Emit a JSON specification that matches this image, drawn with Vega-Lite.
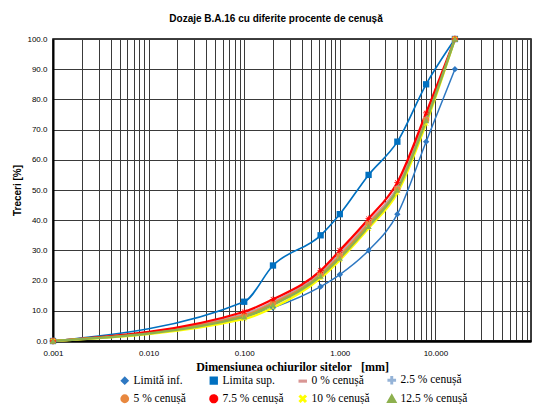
{
  "$schema": "https://vega.github.io/schema/vega-lite/v6.json",
  "width": 478,
  "height": 302,
  "autosize": "none",
  "padding": {"left": 53, "top": 39, "right": 12, "bottom": 63},
  "background": "white",
  "title": {"text": "Dozaje B.A.16 cu diferite procente de cenușă", "font": "Liberation Sans", "fontSize": 10, "fontWeight": "bold", "color": "#000000", "offset": 10, "dx": -16},
  "config": {"view": {"stroke": "#000000", "strokeWidth": 1.5}},
  "data": {"values": [
    {"s": "Limită inf.", "x": 0.001, "y": 0}, {"s": "Limită inf.", "x": 0.1, "y": 8}, {"s": "Limită inf.", "x": 0.2, "y": 11}, {"s": "Limită inf.", "x": 0.63, "y": 18}, {"s": "Limită inf.", "x": 1, "y": 22}, {"s": "Limită inf.", "x": 2, "y": 30}, {"s": "Limită inf.", "x": 4, "y": 42}, {"s": "Limită inf.", "x": 8, "y": 66}, {"s": "Limită inf.", "x": 16, "y": 90},
    {"s": "Limita sup.", "x": 0.001, "y": 0}, {"s": "Limita sup.", "x": 0.1, "y": 13}, {"s": "Limita sup.", "x": 0.2, "y": 25}, {"s": "Limita sup.", "x": 0.63, "y": 35}, {"s": "Limita sup.", "x": 1, "y": 42}, {"s": "Limita sup.", "x": 2, "y": 55}, {"s": "Limita sup.", "x": 4, "y": 66}, {"s": "Limita sup.", "x": 8, "y": 85}, {"s": "Limita sup.", "x": 16, "y": 100},
    {"s": "0 % cenușă", "x": 0.001, "y": 0}, {"s": "0 % cenușă", "x": 0.1, "y": 9.0}, {"s": "0 % cenușă", "x": 0.2, "y": 13.0}, {"s": "0 % cenușă", "x": 0.63, "y": 22.5}, {"s": "0 % cenușă", "x": 1, "y": 29.0}, {"s": "0 % cenușă", "x": 2, "y": 39.5}, {"s": "0 % cenușă", "x": 4, "y": 51.0}, {"s": "0 % cenușă", "x": 8, "y": 74.0}, {"s": "0 % cenușă", "x": 16, "y": 100},
    {"s": "2.5 % cenușă", "x": 0.001, "y": 0}, {"s": "2.5 % cenușă", "x": 0.1, "y": 8.7}, {"s": "2.5 % cenușă", "x": 0.2, "y": 12.7}, {"s": "2.5 % cenușă", "x": 0.63, "y": 22.3}, {"s": "2.5 % cenușă", "x": 1, "y": 28.5}, {"s": "2.5 % cenușă", "x": 2, "y": 39.0}, {"s": "2.5 % cenușă", "x": 4, "y": 50.5}, {"s": "2.5 % cenușă", "x": 8, "y": 73.5}, {"s": "2.5 % cenușă", "x": 16, "y": 100},
    {"s": "5 % cenușă", "x": 0.001, "y": 0}, {"s": "5 % cenușă", "x": 0.1, "y": 8.5}, {"s": "5 % cenușă", "x": 0.2, "y": 12.5}, {"s": "5 % cenușă", "x": 0.63, "y": 22.0}, {"s": "5 % cenușă", "x": 1, "y": 28.2}, {"s": "5 % cenușă", "x": 2, "y": 38.8}, {"s": "5 % cenușă", "x": 4, "y": 50.2}, {"s": "5 % cenușă", "x": 8, "y": 73.2}, {"s": "5 % cenușă", "x": 16, "y": 100},
    {"s": "7.5 % cenușă", "x": 0.001, "y": 0}, {"s": "7.5 % cenușă", "x": 0.1, "y": 9.7}, {"s": "7.5 % cenușă", "x": 0.2, "y": 13.8}, {"s": "7.5 % cenușă", "x": 0.63, "y": 23.3}, {"s": "7.5 % cenușă", "x": 1, "y": 30.0}, {"s": "7.5 % cenușă", "x": 2, "y": 40.5}, {"s": "7.5 % cenușă", "x": 4, "y": 52.5}, {"s": "7.5 % cenușă", "x": 8, "y": 75.5}, {"s": "7.5 % cenușă", "x": 16, "y": 100},
    {"s": "10 % cenușă", "x": 0.001, "y": 0}, {"s": "10 % cenușă", "x": 0.1, "y": 7.3}, {"s": "10 % cenușă", "x": 0.2, "y": 11.0}, {"s": "10 % cenușă", "x": 0.63, "y": 20.8}, {"s": "10 % cenușă", "x": 1, "y": 26.8}, {"s": "10 % cenușă", "x": 2, "y": 37.3}, {"s": "10 % cenușă", "x": 4, "y": 49.0}, {"s": "10 % cenușă", "x": 8, "y": 72.0}, {"s": "10 % cenușă", "x": 16, "y": 100},
    {"s": "12.5 % cenușă", "x": 0.001, "y": 0}, {"s": "12.5 % cenușă", "x": 0.1, "y": 8.0}, {"s": "12.5 % cenușă", "x": 0.2, "y": 12.0}, {"s": "12.5 % cenușă", "x": 0.63, "y": 21.5}, {"s": "12.5 % cenușă", "x": 1, "y": 27.5}, {"s": "12.5 % cenușă", "x": 2, "y": 38.0}, {"s": "12.5 % cenușă", "x": 4, "y": 50.0}, {"s": "12.5 % cenușă", "x": 8, "y": 73.0}, {"s": "12.5 % cenușă", "x": 16, "y": 100}
  ]},
  "encoding": {
    "x": {"field": "x", "type": "quantitative",
      "scale": {"type": "log", "domain": [0.001, 100], "nice": false},
      "axis": {"title": "Dimensiunea ochiurilor sitelor\u00a0\u00a0\u00a0[mm]",
        "values": [0.001,0.002,0.003,0.004,0.005,0.006,0.007,0.008,0.009,0.01,0.02,0.03,0.04,0.05,0.06,0.07,0.08,0.09,0.1,0.2,0.3,0.4,0.5,0.6,0.7,0.8,0.9,1,2,3,4,5,6,7,8,9,10,20,30,40,50,60,70,80,90,100],
        "labelExpr": "(abs(log(datum.value)/LN10 - round(log(datum.value)/LN10)) < 0.001 && datum.value < 50) ? format(datum.value, '.3f') : ''",
        "grid": true, "gridColor": "#3a3a3a", "gridWidth": 1, "gridOpacity": 1,
        "ticks": false, "labelFont": "Liberation Sans", "labelFontSize": 8, "labelColor": "#000000",
        "labelPadding": 8, "labelOverlap": false, "labelFlush": false,
        "titleFont": "Liberation Serif", "titleFontSize": 12, "titleFontWeight": "bold", "titleColor": "#000000", "titlePadding": 4,
        "domainColor": "#000000", "domainWidth": 2.5}},
    "y": {"field": "y", "type": "quantitative",
      "scale": {"domain": [0, 100], "nice": false},
      "axis": {"title": "Treceri [%]", "values": [0,10,20,30,40,50,60,70,80,90,100], "format": ".1f",
        "grid": true, "gridColor": "#3a3a3a", "gridWidth": 1, "gridOpacity": 1,
        "ticks": false, "labelFont": "Liberation Sans", "labelFontSize": 8, "labelColor": "#000000", "labelPadding": 6,
        "titleFont": "Liberation Sans", "titleFontSize": 10, "titleFontWeight": "bold", "titleColor": "#000000", "titlePadding": 4,
        "domainColor": "#000000", "domainWidth": 2}},
    "color": {"field": "s", "type": "nominal",
      "scale": {"domain": ["Limită inf.", "Limita sup.", "0 % cenușă", "2.5 % cenușă", "5 % cenușă", "7.5 % cenușă", "10 % cenușă", "12.5 % cenușă"],
        "range": ["#2E78C2", "#0070C0", "#D99694", "#95B3D7", "#E8883F", "#FF0000", "#FFFF00", "#8DB04E"]},
      "legend": {"orient": "none", "legendX": 66, "legendY": 335, "direction": "horizontal", "columns": 4, "title": null,
        "labelFont": "Liberation Serif", "labelFontSize": 11.5, "labelColor": "#000000", "labelOffset": 3,
        "symbolSize": 45, "rowPadding": 2, "columnPadding": 4, "gridAlign": "all", "labelLimit": 120, "symbolStrokeWidth": 0, "symbolOpacity": 1}}
  },
  "layer": [
    {"mark": {"type": "line", "interpolate": "monotone"},
      "encoding": {"strokeWidth": {"field": "s", "type": "nominal", "legend": null,
        "scale": {"domain": ["Limită inf.", "Limita sup.", "0 % cenușă", "2.5 % cenușă", "5 % cenușă", "7.5 % cenușă", "10 % cenușă", "12.5 % cenușă"],
          "range": [1.5, 2.5, 2.5, 2.5, 2.5, 2.5, 2.5, 2.5]}}}},
    {"mark": {"type": "point", "filled": true, "opacity": 1, "size": 40},
      "encoding": {"shape": {"field": "s", "type": "nominal",
        "scale": {"domain": ["Limită inf.", "Limita sup.", "0 % cenușă", "2.5 % cenușă", "5 % cenușă", "7.5 % cenușă", "10 % cenușă", "12.5 % cenușă"],
          "range": ["diamond", "square", "M-1,-0.2H1V0.2H-1Z", "M-1,-0.15H-0.15V-1H0.15V-0.15H1V0.15H0.15V1H-0.15V0.15H-1Z", "circle",
            "M-1,-0.12H1V0.12H-1ZM-0.12,-1H0.12V1H-0.12ZM-0.8,-0.63L-0.63,-0.8L0.8,0.63L0.63,0.8ZM0.63,-0.8L0.8,-0.63L-0.63,0.8L-0.8,0.63Z",
            "M-0.8,-0.65L-0.65,-0.8L0.8,0.65L0.65,0.8ZM0.65,-0.8L0.8,-0.65L-0.65,0.8L-0.8,0.65Z", "triangle-up"]}}}}
  ]
}
